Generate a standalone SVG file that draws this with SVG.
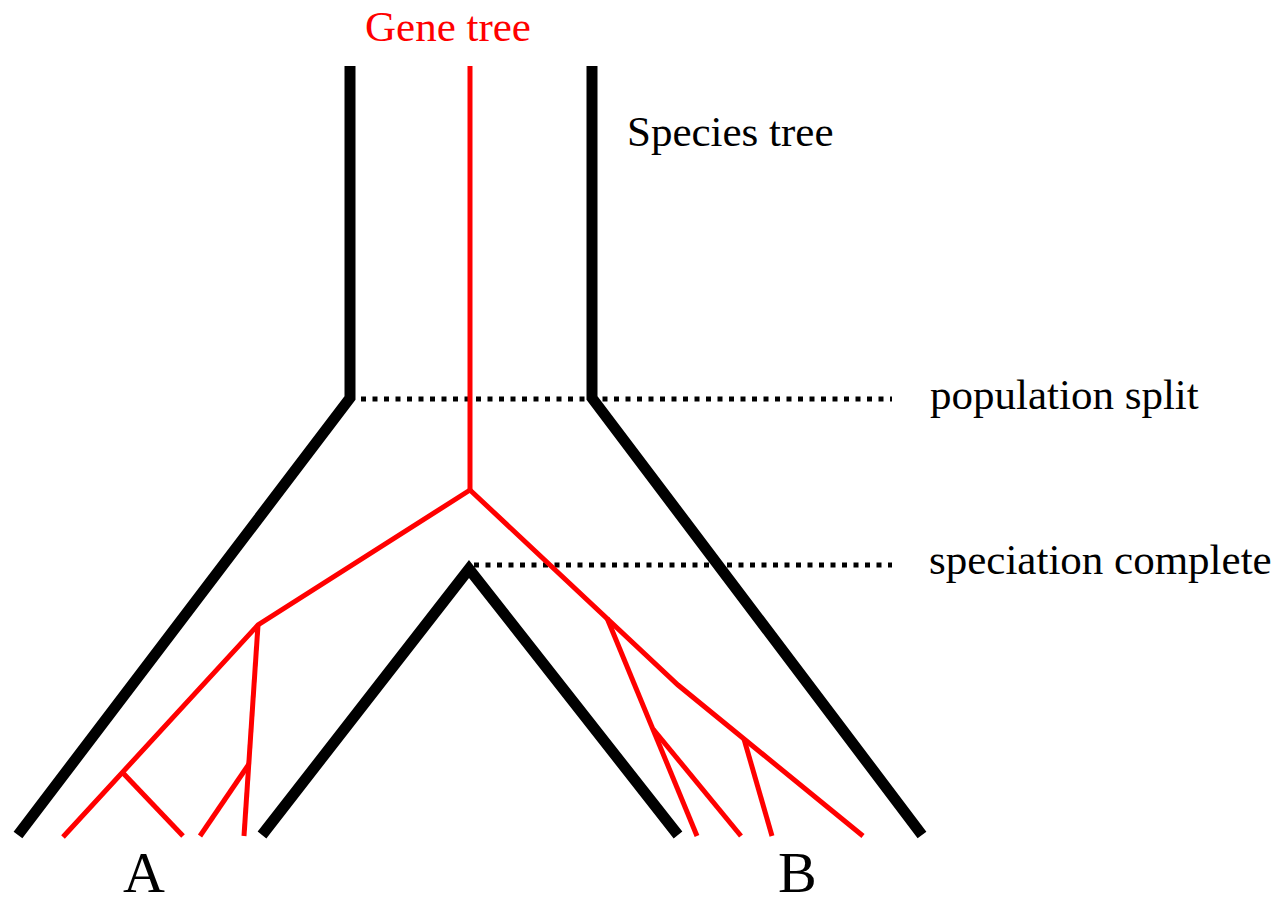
<svg xmlns="http://www.w3.org/2000/svg" width="1274" height="898" viewBox="0 0 1274 898">
<style>
.sp{fill:none;stroke:#000;stroke-width:11;stroke-linejoin:miter;stroke-linecap:butt}
.gn{fill:none;stroke:#f00;stroke-width:5;stroke-linejoin:miter;stroke-linecap:butt}
.dot{fill:none;stroke:#000;stroke-width:5;stroke-dasharray:5 6.5}
.lbl{font-family:"Liberation Serif","Times New Roman",serif;font-size:43px;fill:#000}
.big{font-family:"Liberation Serif","Times New Roman",serif;font-size:58px;fill:#000}
</style>
<rect width="1274" height="898" fill="#fff"/>
<g id="connectors">
<line class="dot" x1="361" y1="399" x2="892" y2="399"/>
<line class="dot" x1="474" y1="565" x2="892" y2="565"/>
</g>
<g id="species-tree">
<polyline class="sp" points="350,66 350,398 18,835"/>
<polyline class="sp" points="592,66 592,398 922,835"/>
<polyline class="sp" points="262,835 469,569 678,835"/>
</g>
<g id="gene-tree">
<polyline class="gn" points="470,66 470,490"/>
<polyline class="gn" points="470,490 258,625 63,837"/>
<line class="gn" x1="123" y1="773" x2="183" y2="836"/>
<polyline class="gn" points="258,625 244,836"/>
<line class="gn" x1="249" y1="764" x2="200" y2="836"/>
<polyline class="gn" points="470,490 678,685 863,836"/>
<line class="gn" x1="607" y1="618" x2="697" y2="836"/>
<line class="gn" x1="653" y1="729" x2="741" y2="836"/>
<line class="gn" x1="744" y1="739" x2="772" y2="836"/>
</g>
<g id="label-gene-tree"><text class="lbl" x="365" y="41" style="fill:#f00">Gene tree</text></g>
<g id="label-species-tree"><text class="lbl" x="627" y="146">Species tree</text></g>
<g id="label-population-split"><text class="lbl" x="930" y="409">population split</text></g>
<g id="label-speciation-complete"><text class="lbl" x="929" y="574">speciation complete</text></g>
<g id="label-A"><text class="big" x="123" y="892">A</text></g>
<g id="label-B"><text class="big" x="778" y="892">B</text></g>
</svg>
